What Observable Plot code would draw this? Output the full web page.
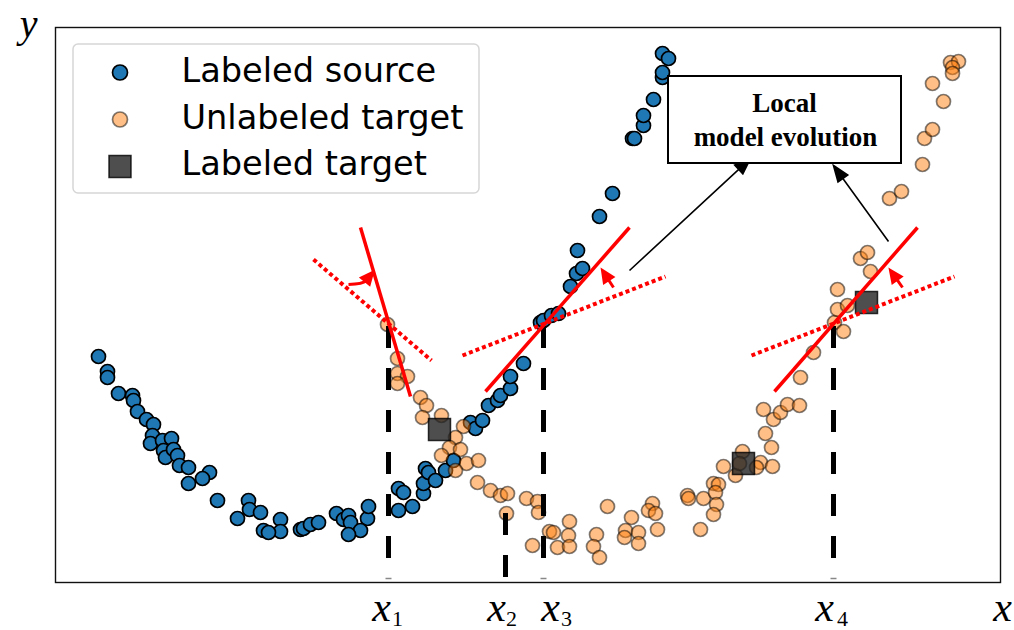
<!DOCTYPE html>
<html>
<head>
<meta charset="utf-8">
<script src="https://cdn.jsdelivr.net/npm/d3@7"></script>
<script src="https://cdn.jsdelivr.net/npm/@observablehq/plot@0.6"></script>
<style>
  html, body { margin: 0; padding: 0; background: #fff; }
  #chart svg { display: block; }
</style>
</head>
<body>
<div id="chart"></div>
<script>
// ---------- DATA (abstract coordinates: x to the right, y upward) ----------
const sourceX = [98,107,107,118,132,133,137,146,153,152,150,162,171,163,165,173,177,179,188,209,202,188,217,248,249,260,237,280,263,280,268,300,303,310,318,336,343,348,350,367,368,360,348,
  398,403,398,412,423,423,425,428,435,445,453,470,475,482,488,497,500,510,510,523,540,543,551,558,570,576,582,577,599,612,632,634,643,643,653,662,662,662,668];
const sourceY = [244,229,223,207,205,200,189,181,176,165,157,160,162,150,143,151,145,135,133,128,122,117,100,100,91,88,82,81,70,69,68,71,72,76,78,87,81,85,78,82,94,70,66,
  112,108,90,94,107,117,132,128,120,130,140,178,172,180,195,200,205,212,224,237,278,280,285,287,314,327,332,350,384,407,462,462,475,485,501,523,528,547,542];

const targetX = [387,397,397,407,397,420,426,422,441,463,455,449,460,441,466,478,455,477,490,500,507,526,537,538,506,549,553,568,569,532,557,569,607,596,593,599,631,625,624,638,638,652,648,655,657,687,688,703,700,713,718,715,716,713,723,735,742,739,760,756,772,771,765,773,763,780,787,799,800,813,834,843,837,847,837,860,867,870,889,901,922,924,932,943,932,950,958,952,952];
const targetY = [276,242,227,224,217,203,195,183,185,174,163,153,151,145,137,140,130,118,110,105,107,102,99,88,87,69,68,65,79,55,53,54,94,66,54,43,83,70,63,68,57,97,90,87,71,105,102,102,71,117,116,108,96,86,134,125,149,137,138,133,134,153,167,181,191,188,196,195,223,248,278,269,291,295,311,342,348,329,402,409,436,462,471,499,517,538,539,533,527];

const labeledX = [439, 743, 866];
const labeledY = [171, 137, 298];

// query points x1..x4 and their guide lines
const queryX = [388, 505, 543, 833];
const queryFrom = [42, 87, 42, 42];
const queryTo = [274, 22, 274, 274];
const querySub = ["1", "2", "3", "4"];
const queryLetterX = [381, 496, 550, 824];
const queryDigitX = [397, 511, 566, 842];

// local models: solid = new model, dotted = old model
const solidX1 = [360, 485, 774], solidY1 = [373, 209, 209], solidX2 = [410, 629, 917], solidY2 = [204, 373, 373];
const dotX1 = [313, 462, 751], dotY1 = [341, 245, 245], dotX2 = [431, 665, 954], dotY2 = [240, 324, 324];

// small red rotation arrows (tail -> tip), bend
const redArrowX1 = [348, 613, 902], redArrowY1 = [316, 313, 313];
const redArrowX2 = [372, 602, 890], redArrowY2 = [328, 330, 330];
const redArrowBend = [0.22, 0, 0];

// black arrows to annotation
const blackArrowX1 = [629, 888], blackArrowY1 = [330, 359];
const blackArrowX2 = [750, 833], blackArrowY2 = [442, 435];

const boxX1 = 668, boxX2 = 901, boxY1 = 437, boxY2 = 524;
const boxLines = ["Local", "model evolution"];
const boxLineX = [784, 785];
const boxLineY = [497, 463];

const legendLabels = ["Labeled source", "Unlabeled target", "Labeled target"];
const legendMarkY = [528, 481, 434];
const legendTextY = [529.5, 482.5, 436.5];

// ---------- BUILD ----------
const source = sourceX.map((x, i) => ({x, y: sourceY[i]}));
const target = targetX.map((x, i) => ({x, y: targetY[i]}));
const labeled = labeledX.map((x, i) => ({x, y: labeledY[i]}));
const queries = queryX.map((x, i) => ({x, from: queryFrom[i], to: queryTo[i], sub: querySub[i], lx: queryLetterX[i], dx: queryDigitX[i]}));
const solids = solidX1.map((x, i) => ({x1: x, y1: solidY1[i], x2: solidX2[i], y2: solidY2[i]}));
const dots = dotX1.map((x, i) => ({x1: x, y1: dotY1[i], x2: dotX2[i], y2: dotY2[i]}));
const ticks = queries.filter(d => d.sub !== "2").map(d => ({x1: d.x - 3, x2: d.x + 3, y: 22}));

function arrowShape(headLen, headHalf, bend) {
  return {
    draw(ctx, l) {
      const cx = bend * l, cy = -l / 2;
      let tx = bend ? -cx : 0, ty = bend ? (-l - cy) : -1;
      const n = Math.hypot(tx, ty); tx /= n; ty /= n;
      const bx = -tx * headLen, by = -l - ty * headLen;
      ctx.moveTo(0, 0);
      if (bend) { ctx.quadraticCurveTo(cx, cy, bx, by); ctx.quadraticCurveTo(cx, cy, 0, 0); }
      else { ctx.lineTo(bx, by); ctx.lineTo(0, 0); }
      const px = -ty, py = tx;
      ctx.moveTo(0, -l);
      ctx.lineTo(bx + px * headHalf, by + py * headHalf);
      ctx.lineTo(bx - px * headHalf, by - py * headHalf);
      ctx.closePath();
    }
  };
}
function arrowMark(x1, y1, x2, y2, color, width, headLen, headHalf, bend) {
  const dx = x2 - x1, dy = y2 - y1;
  const len = Math.hypot(dx, dy);
  const rot = Math.atan2(dx, dy) * 180 / Math.PI;
  return Plot.vector([{x: x1, y: y1}], {
    x: "x", y: "y", length: len, rotate: rot, anchor: "start",
    shape: arrowShape(headLen, headHalf, bend),
    stroke: color, fill: color, strokeWidth: width, strokeLinejoin: "miter", strokeLinecap: "butt"
  });
}

const redArrows = redArrowX1.map((x, i) => arrowMark(x, redArrowY1[i], redArrowX2[i], redArrowY2[i], "#ff0000", 3, 11, 5, redArrowBend[i]));
const blackArrows = blackArrowX1.map((x, i) => arrowMark(x, blackArrowY1[i], blackArrowX2[i], blackArrowY2[i], "#000", 1.6, 16, 6, 0));

const legendItems = legendLabels.map((t, i) => ({t, y: legendMarkY[i], ty: legendTextY[i]}));

const serif = "'Liberation Serif', 'DejaVu Serif', serif";
const sans = "'DejaVu Sans', sans-serif";

const chart = Plot.plot({
  width: 1014, height: 630,
  marginLeft: 55, marginRight: 14, marginTop: 27, marginBottom: 48,
  x: {domain: [55, 1000], axis: null},
  y: {domain: [18, 573], axis: null},
  style: {background: "white", overflow: "visible"},
  marks: [
    Plot.frame({stroke: "#111", strokeWidth: 1.4}),
    Plot.dot(source, {x: "x", y: "y", r: 7, fill: "#1f77b4", stroke: "#000", strokeWidth: 1.7}),
    Plot.dot(target, {x: "x", y: "y", r: 7, fill: "#ff7f0e", fillOpacity: 0.5, stroke: "#000", strokeOpacity: 0.5, strokeWidth: 1.7}),
    Plot.dot(labeled, {x: "x", y: "y", r: 12.4, symbol: "square", fill: "#222", fillOpacity: 0.8, stroke: "#000", strokeOpacity: 0.8, strokeWidth: 1.5}),
    Plot.ruleX(queries, {x: "x", y1: "from", y2: "to", stroke: "#000", strokeWidth: 5, strokeDasharray: "22,20"}),
    Plot.link(ticks, {x1: "x1", x2: "x2", y1: "y", y2: "y", stroke: "#888", strokeWidth: 1.5}),
    Plot.link(dots, {x1: "x1", y1: "y1", x2: "x2", y2: "y2", stroke: "#ff0000", strokeWidth: 4, strokeDasharray: "4,3"}),
    Plot.link(solids, {x1: "x1", y1: "y1", x2: "x2", y2: "y2", stroke: "#ff0000", strokeWidth: 3.5}),
    ...redArrows,
    ...blackArrows,
    Plot.rect([{x1: boxX1, x2: boxX2, y1: boxY1, y2: boxY2}], {x1: "x1", x2: "x2", y1: "y1", y2: "y2", fill: "white", stroke: "#000", strokeWidth: 2}),
    Plot.text(boxLines.map((t, i) => ({t, x: boxLineX[i], y: boxLineY[i]})), {x: "x", y: "y", text: "t", fontFamily: serif, fontWeight: "bold", fontSize: 27, fill: "#000"}),
    // legend
    Plot.rect([{x1: 73, x2: 479, y1: 407, y2: 556}], {x1: "x1", x2: "x2", y1: "y1", y2: "y2", fill: "white", fillOpacity: 0.8, stroke: "#d6d6d6", strokeWidth: 1.5, rx: 5}),
    Plot.dot(legendItems.slice(0, 1), {x: () => 119.5, y: "y", r: 7.5, fill: "#1f77b4", stroke: "#000", strokeWidth: 1.7}),
    Plot.dot(legendItems.slice(1, 2), {x: () => 119.5, y: "y", r: 7.5, fill: "#ff7f0e", fillOpacity: 0.5, stroke: "#000", strokeOpacity: 0.5, strokeWidth: 1.7}),
    Plot.dot(legendItems.slice(2, 3), {x: () => 119.5, y: "y", r: 12.4, symbol: "square", fill: "#222", fillOpacity: 0.8, stroke: "#000", strokeOpacity: 0.8, strokeWidth: 1.5}),
    Plot.text(legendItems, {x: () => 181, y: "ty", text: "t", textAnchor: "start", fontFamily: sans, fontSize: 33.6, fill: "#000"}),
    // axis letters
    Plot.text([{t: "y", x: 28, y: 576.8}], {x: "x", y: "y", text: "t", fontFamily: serif, fontStyle: "italic", fontSize: 40, fill: "#000"}),
    Plot.text([{t: "x", x: 1002, y: -6.6}], {x: "x", y: "y", text: "t", fontFamily: serif, fontStyle: "italic", fontSize: 42, fill: "#000"}),
    Plot.text(queries, {x: "lx", y: () => -6.6, text: () => "x", fontFamily: serif, fontStyle: "italic", fontSize: 42, fill: "#000"}),
    Plot.text(queries, {x: "dx", y: () => -17.96, text: "sub", fontFamily: serif, fontSize: 22, fill: "#000"})
  ]
});
document.getElementById("chart").appendChild(chart);
</script>
</body>
</html>
